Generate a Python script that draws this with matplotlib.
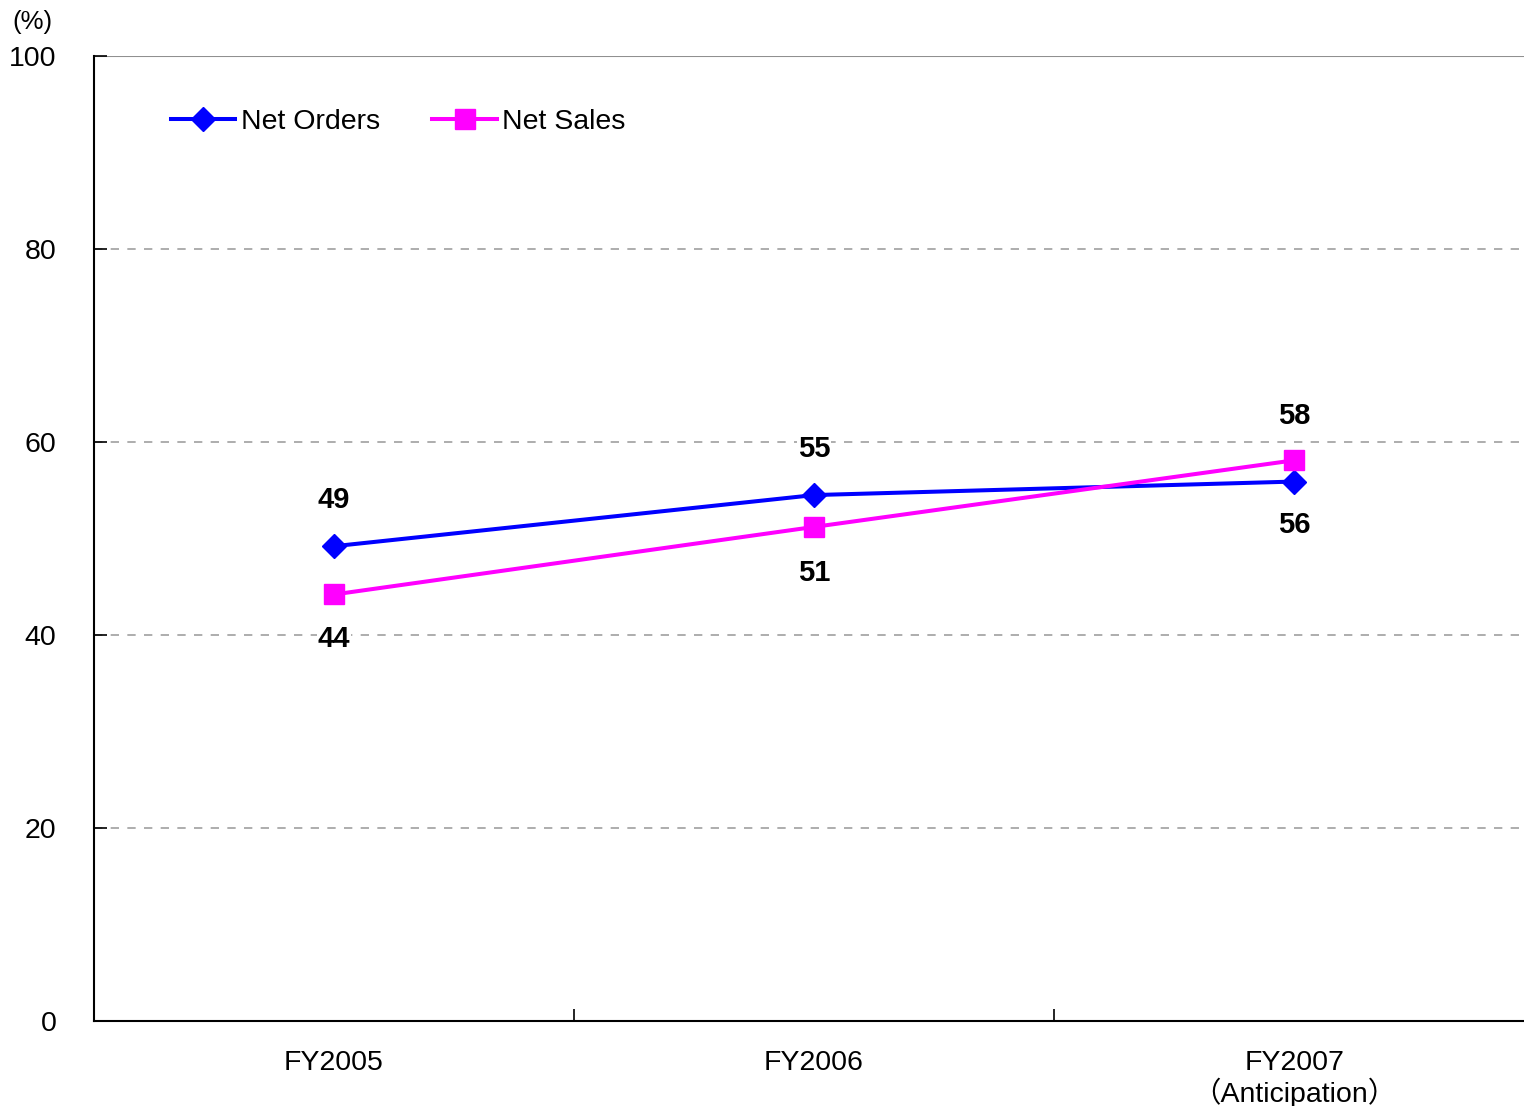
import matplotlib
matplotlib.use("Agg")
import matplotlib.pyplot as plt
import numpy as np

plt.rcParams['font.family'] = ['Liberation Sans', 'Noto Sans CJK JP', 'DejaVu Sans']

categories = ["FY2005", "FY2006", "FY2007\n（Anticipation）"]
net_orders = [49.2, 54.5, 55.9]
net_sales = [44.2, 51.2, 58.1]
orders_labels = ["49", "55", "56"]
sales_labels = ["44", "51", "58"]
y_ticks = [0, 20, 40, 60, 80, 100]

fig = plt.figure(figsize=(15.24, 11.06), dpi=100)
ax = fig.add_axes([94 / 1524, 1 - 1021 / 1106, 1 - 94 / 1524, (1021 - 56) / 1106])

x = np.arange(len(categories))
ax.plot(x, net_orders, color='#0000ff', lw=2.9, marker='D', markersize=12,
        label='Net Orders', zorder=3)
ax.plot(x, net_sales, color='#ff00ff', lw=2.9, marker='s', markersize=14,
        label='Net Sales', zorder=3)

# label positions: above (+) or below (-)
orders_off = [33, 33, -31]
sales_off = [-32, -33, 32]
for i in range(len(x)):
    ax.annotate(orders_labels[i], (x[i], net_orders[i]), xytext=(0, orders_off[i]),
                textcoords='offset points', ha='center', va='center',
                fontsize=21, fontweight='bold',
                bbox=dict(facecolor='white', edgecolor='none', pad=0.5))
    ax.annotate(sales_labels[i], (x[i], net_sales[i]), xytext=(0, sales_off[i]),
                textcoords='offset points', ha='center', va='center',
                fontsize=21, fontweight='bold',
                bbox=dict(facecolor='white', edgecolor='none', pad=0.5))

ax.set_xlim(-0.5, 2.479)
ax.set_ylim(0, 100)
ax.set_yticks(y_ticks)
ax.set_yticklabels([str(v) for v in y_ticks], fontsize=20.5)
for v in y_ticks[1:-1]:
    ax.axhline(v, color='#a0a0a0', lw=1.2, ls=(0, (5, 5)), zorder=1)
ax.axhline(100, color='#909090', lw=1.5, zorder=1)

ax.set_xticks(x)
ax.set_xticklabels(categories, fontsize=20.5, linespacing=1.05)
ax.set_xticks([0.5, 1.5], minor=True)
ax.tick_params(axis='x', which='major', length=0, pad=21)
ax.tick_params(axis='x', which='minor', direction='in', length=9, width=1.2)
ax.tick_params(axis='y', direction='in', length=9, width=1.2, pad=27)

for s in ['top', 'right']:
    ax.spines[s].set_visible(False)
for s in ['left', 'bottom']:
    ax.spines[s].set_linewidth(1.5)

fig.text(12 / 1524, 1 - 22 / 1106, "(%)", fontsize=18.5, va='center', ha='left')

ax.legend(loc='center left', bbox_to_anchor=(0.0538, 0.9316), ncol=2, frameon=False,
          fontsize=20.5, handlelength=2.25, handletextpad=0.2, columnspacing=1.85,
          borderaxespad=0, borderpad=0)

fig.savefig("out.png", dpi=100)
